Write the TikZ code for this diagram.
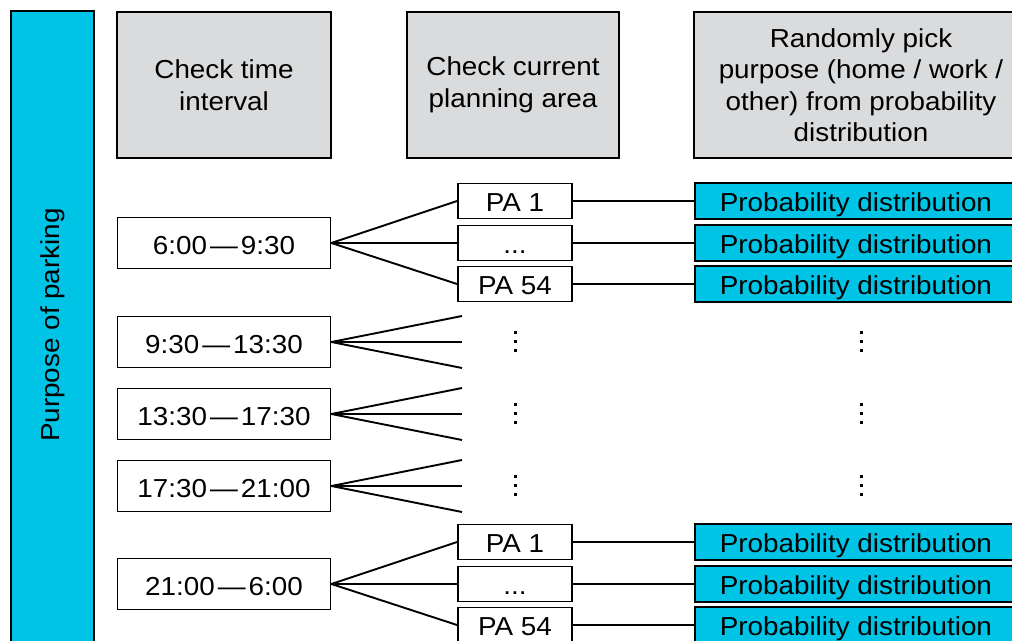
\documentclass[tikz,border=0pt]{standalone}
\usepackage{fontspec}
\setmainfont[FakeStretch=1.07]{Liberation Sans}
\definecolor{parkcyan}{RGB}{0,196,230}
\definecolor{headgray}{RGB}{218,219,221}
\newcommand{\tdash}{\kern3pt—\kern3pt}

\begin{document}
\begin{tikzpicture}[x=1pt, y=-1pt,
    every node/.style={font=\fontsize{26}{31.5}\selectfont, inner sep=0pt},
    box/.style={draw, line width=1.9pt},
    headbox/.style={box, fill=headgray, minimum width=#1, minimum height=146, align=center},
    timebox/.style={box, fill=white, minimum width=213, minimum height=51, text height=23pt, text depth=0pt},
    pabox/.style={box, fill=white, minimum width=114, minimum height=35, text height=21pt, text depth=0pt},
    probbox/.style={box, fill=parkcyan, minimum width=328, minimum height=36, text height=21pt, text depth=0pt},
    conn/.style={line width=1.9pt}]
        \useasboundingbox (0,0) rectangle (1012,640);
        % side bar
        \filldraw[fill=parkcyan, line width=1.9pt] (11,11) rectangle (94,680);
        \node[rotate=90] (purpose) at (52.5,325) {Purpose of parking};
        % column heads
        \node[headbox=214] (headtime) at (224,85) {Check time\\interval};
        \node[headbox=212] (headarea) at (513,85) {Check current\\planning area};
        \node[headbox=334] (headpick) at (861,85) {Randomly pick\\purpose (home / work /\\other) from probability\\distribution};
        % time intervals
        \foreach \n/\y/\lab in {1/243/{6:00\tdash 9:30}, 2/342/{9:30\tdash 13:30}, 3/414/{13:30\tdash 17:30}, 4/486/{17:30\tdash 21:00}, 5/584/{21:00\tdash 6:00}}
        {
            \node[timebox] (t\n) at (224,\y) {\lab};
        }
        % planning areas with distributions
        \foreach \n/\y in {1/243, 5/584}
        {
            \node[pabox] (pa\n a) at (515,\y-42) {PA 1};
            \node[pabox] (pa\n b) at (515,\y) {...};
            \node[pabox] (pa\n c) at (515,\y+41) {PA 54};
            \foreach \k in {a,b,c}
            {
                \node[probbox, anchor=west] (pd\n\k) at (694,0 |- pa\n\k) {\hspace*{-6pt}Probability distribution};
                \draw[conn] (t\n.east) -- (pa\n\k.west);
                \draw[conn] (pa\n\k.east) -- (pd\n\k.west);
            }
        }
        % omitted areas
        \foreach \n/\y in {2/342, 3/414, 4/486}
        {
            \coordinate (f\n a) at (462,\y-26);
            \coordinate (f\n b) at (462,\y);
            \coordinate (f\n c) at (462,\y+26);
            \foreach \k in {a,b,c}
                \draw[conn] (t\n.east) -- (f\n\k);
            \foreach \x in {515,861}
            \foreach \d in {-9,0,9}
            {
                \fill (\x-1.5,\y-1+\d-1.5) rectangle ++(3,3);
            }
        }
\end{tikzpicture}
\end{document}
